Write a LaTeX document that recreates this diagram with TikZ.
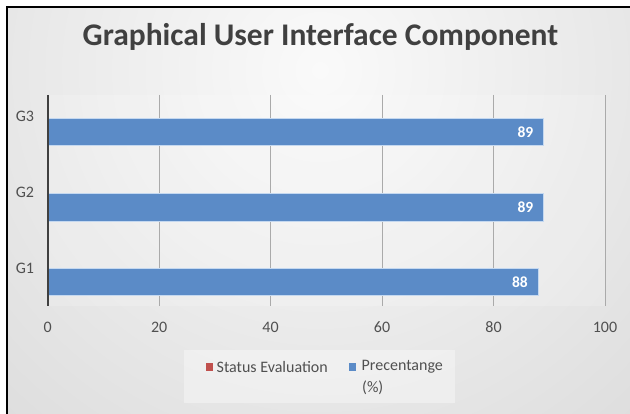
\documentclass[tikz,border=0pt]{standalone}
\usepackage{fontspec}
\setmainfont{Carlito}
\definecolor{bgin}{RGB}{250,250,250}
\definecolor{bgout}{RGB}{196,196,196}
\definecolor{barblue}{RGB}{91,139,199}
\definecolor{barhalo}{RGB}{196,216,240}
\definecolor{serred}{RGB}{192,80,77}
\definecolor{txtgray}{RGB}{80,80,80}
\definecolor{titlegray}{RGB}{64,64,64}
\definecolor{gridgray}{RGB}{170,170,170}
\begin{document}
\begin{tikzpicture}[x=1pt,y=-1pt,
  lbl/.style={font=\fontsize{16}{19}\selectfont, text=txtgray, inner sep=0pt},
  vallbl/.style={font=\fontsize{15.5}{18}\selectfont\bfseries, text=white, inner sep=0pt, anchor=east},
  barstyle/.style={fill=barblue, draw=barhalo, line width=1.2pt},
  gridline/.style={draw=gridgray, line width=0.8pt}]
\useasboundingbox (0,0) rectangle (630,414);
\fill[white] (0,0) rectangle (630,414);
\begin{scope}
  \clip (7,8) rectangle (630,414);
  \shade[inner color=bgin, outer color=bgout] (320,70) circle (900);
\end{scope}
% plot area
\fill[white, opacity=0.18] (47.7,95) rectangle (605,306);
% frame
\draw[line width=2pt, black] (6.5,414) -- (6.5,7.5) -- (630,7.5);
% title
\node[anchor=base, font=\fontsize{31.5}{38}\selectfont\bfseries, text=titlegray, inner sep=0pt] (title) at (320.5,46) {Graphical User Interface Component};
% gridlines
\foreach \k/\xx in {20/159.2,40/270.6,60/382.1,80/493.5,100/605.0}{
  \draw[gridline] (\xx,95) -- (\xx,306);
  \node[lbl] (x\k) at (\xx,327.5) {\k};
}
\node[lbl] (x0) at (47.7,327.5) {0};
% bars
\path[barstyle] (47.7,118.3) rectangle (543.7,145.7);
\path[barstyle] (47.7,193.8) rectangle (543.7,221.2);
\path[barstyle] (47.7,268.3) rectangle (538.1,295.7);
\node[vallbl] (v3) at (533.5,132) {89};
\node[vallbl] (v2) at (533.5,207.5) {89};
\node[vallbl] (v1) at (528,282) {88};
% axis
\draw[line width=1.8pt, titlegray] (47.7,95) -- (47.7,306);
% category labels
\node[lbl] (g3) at (25,116.5) {G3};
\node[lbl] (g2) at (25,192) {G2};
\node[lbl] (g1) at (25,268) {G1};
% legend
\fill[white, opacity=0.35] (184,350) rectangle (455,403);
\fill[serred] (205.7,362.7) rectangle (213.3,371);
\node[lbl, anchor=west] (lstatus) at (216.5,366.8) {Status Evaluation};
\fill[barblue] (348.5,362.7) rectangle (356.1,371);
\node[lbl, anchor=west] (lperc) at (361.5,366.8) {Precentange};
\node[lbl, anchor=west] (lpct) at (362,387.5) {(\%)};
\end{tikzpicture}
\end{document}
